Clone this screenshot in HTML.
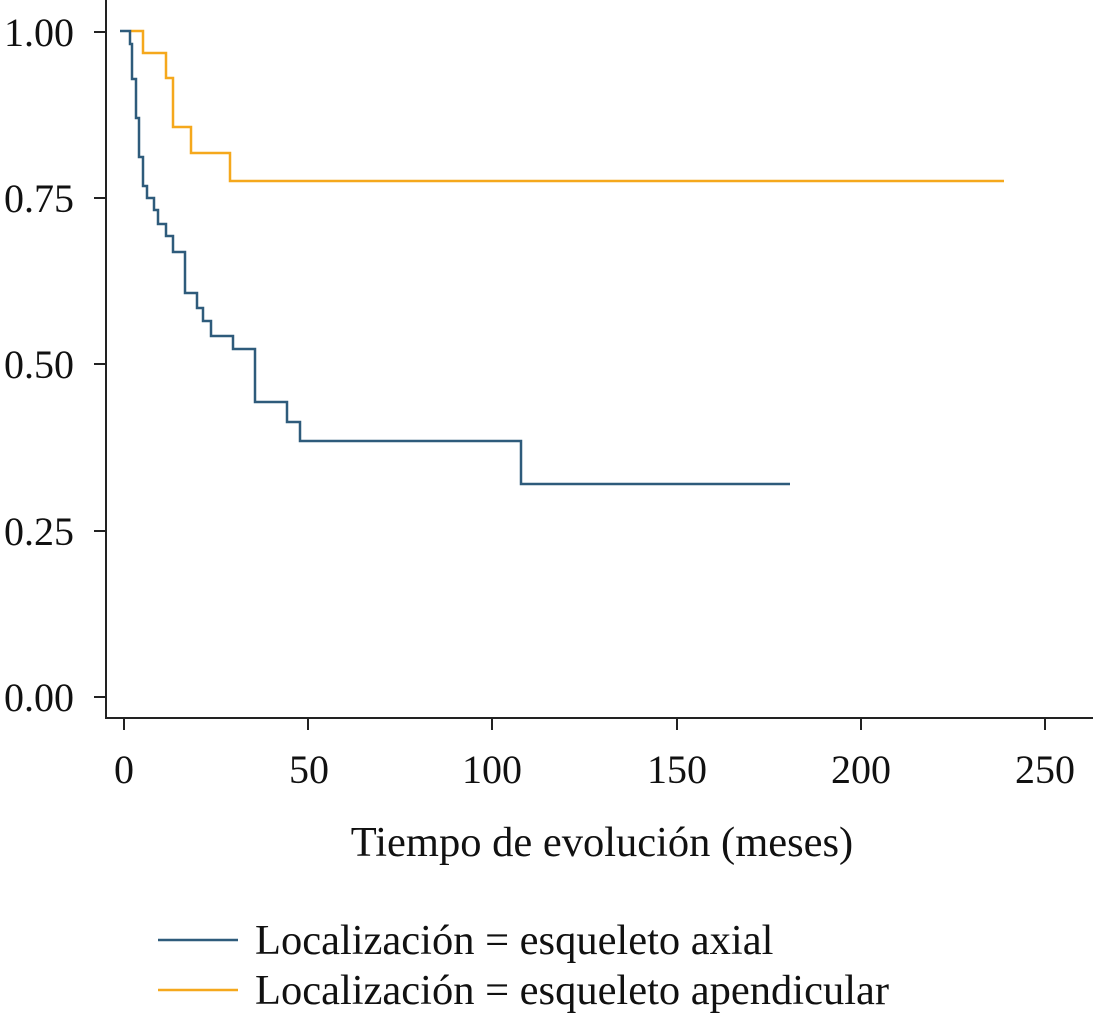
<!DOCTYPE html>
<html><head><meta charset="utf-8"><style>body{margin:0;background:#fff}svg{display:block}</style></head><body>
<svg width="1095" height="1024" viewBox="0 0 1095 1024" xmlns="http://www.w3.org/2000/svg" font-family="Liberation Serif, serif" fill="#111">
<g stroke="#222" stroke-width="2" fill="none">
<line x1="106" y1="0" x2="106" y2="719"/>
<line x1="105" y1="718" x2="1093" y2="718"/>
<line x1="94" y1="32" x2="106" y2="32"/><line x1="94" y1="198" x2="106" y2="198"/><line x1="94" y1="364" x2="106" y2="364"/><line x1="94" y1="531" x2="106" y2="531"/><line x1="94" y1="697" x2="106" y2="697"/>
<line x1="124" y1="718" x2="124" y2="730"/><line x1="308" y1="718" x2="308" y2="730"/><line x1="492" y1="718" x2="492" y2="730"/><line x1="677" y1="718" x2="677" y2="730"/><line x1="861" y1="718" x2="861" y2="730"/><line x1="1045" y1="718" x2="1045" y2="730"/>
</g>
<g font-size="40" text-anchor="end">
<text x="74" y="46">1.00</text><text x="74" y="212">0.75</text><text x="74" y="378">0.50</text><text x="74" y="545">0.25</text><text x="74" y="711">0.00</text>
</g>
<g font-size="40" text-anchor="middle">
<text x="124" y="783">0</text><text x="309" y="783">50</text><text x="492" y="783">100</text><text x="677" y="783">150</text><text x="861" y="783">200</text><text x="1045" y="783">250</text>
<text x="602" y="856" font-size="42.5">Tiempo de evolución (meses)</text>
</g>
<polyline fill="none" stroke="#f5a81c" stroke-width="2.5" points="131,31 143,31 143,53 166,53 166,78 173,78 173,127 191,127 191,153 230,153 230,181 1004,181"/>
<polyline fill="none" stroke="#2e5b7b" stroke-width="2.5" points="120,31 130,31 130,44 132,44 132,79 136,79 136,118 139,118 139,157 143,157 143,186 147,186 147,198 154,198 154,210 158,210 158,224 166,224 166,236 173,236 173,252 185,252 185,293 197,293 197,308 203,308 203,321 211,321 211,336 233,336 233,349 255,349 255,402 287,402 287,422 300,422 300,441 521,441 521,484 790,484"/>
<line x1="158" y1="940" x2="238" y2="940" stroke="#2e5b7b" stroke-width="2.5"/>
<line x1="158" y1="990" x2="238" y2="990" stroke="#f5a81c" stroke-width="2.5"/>
<g font-size="42.5"><text x="255" y="954">Localización = esqueleto axial</text><text x="255" y="1004">Localización = esqueleto apendicular</text></g>
</svg>
</body></html>
